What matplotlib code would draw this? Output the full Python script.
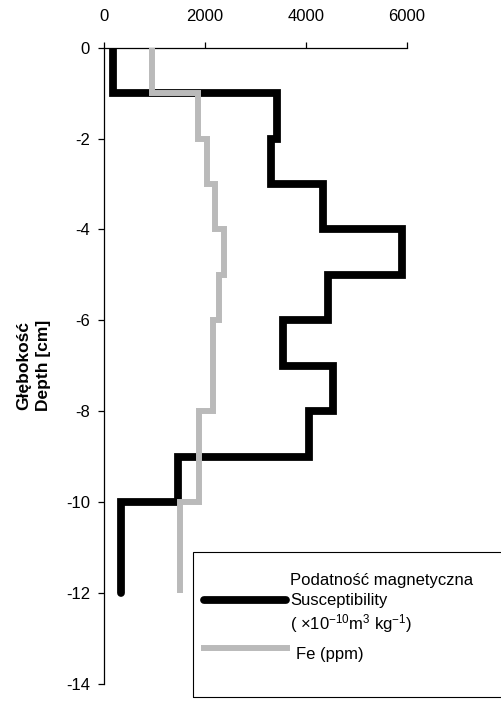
import numpy as np
import matplotlib
matplotlib.use("Agg")
import matplotlib.pyplot as plt
from matplotlib.patches import Rectangle
from matplotlib.lines import Line2D

plt.rcParams['font.family'] = ['Liberation Sans', 'DejaVu Sans']
plt.rcParams['axes.unicode_minus'] = False
plt.rcParams['mathtext.fontset'] = 'custom'
plt.rcParams['mathtext.rm'] = 'Liberation Sans'
plt.rcParams['mathtext.it'] = 'Liberation Sans'

# 1 cm sampling intervals, top of each slice
depth_top = [0, -1, -2, -3, -4, -5, -6, -7, -8, -9, -10, -11]
susceptibility = [170, 3420, 3300, 4330, 5900, 4440, 3540, 4545, 4070, 1470, 330, 330]
fe_ppm = [940, 1865, 2030, 2195, 2375, 2270, 2160, 2160, 1885, 1870, 1500, 1500]

x_ticks = [0, 2000, 4000, 6000]
y_ticks = [0, -2, -4, -6, -8, -10, -12, -14]


def step_profile(tops, values):
    """Vertical step line: each value held over its 1 cm slice."""
    tops = np.asarray(tops, dtype=float)
    vals = np.asarray(values, dtype=float)
    ys = np.column_stack([tops, tops - 1]).ravel()
    xs = np.repeat(vals, 2)
    return xs, ys


fig = plt.figure(figsize=(5.02, 7.02), dpi=100)
ax = fig.add_axes([0.2078, 0.0256, 0.6025, 0.9065])

xs, ys = step_profile(depth_top, susceptibility)
ax.plot(xs, ys, color='black', lw=5.6, solid_capstyle='round',
        solid_joinstyle='miter', zorder=3)
xs, ys = step_profile(depth_top, fe_ppm)
ax.plot(xs, ys, color='#bababa', lw=4.3, solid_capstyle='butt',
        solid_joinstyle='miter', zorder=4)

ax.set_xlim(0, 6000)
ax.set_ylim(-14, 0)
ax.set_xticks(x_ticks)
ax.set_yticks(y_ticks)
ax.xaxis.tick_top()
ax.spines['right'].set_visible(False)
ax.spines['bottom'].set_visible(False)
for s in ('left', 'top'):
    ax.spines[s].set_linewidth(0.9)
ax.tick_params(axis='x', direction='out', length=4.3, width=0.9,
               pad=13, labelsize=12)
ax.tick_params(axis='y', direction='out', length=4.3, width=0.9,
               pad=6, labelsize=12)

ax.set_ylabel('Głębokość\nDepth [cm]', fontsize=12.5, fontweight='bold',
              linespacing=1.4, labelpad=11)

# legend box, drawn in figure pixels
W, H = 502, 702


def fx(px):
    return px / W


def fy(py):
    return 1 - py / H


fig.add_artist(Rectangle((fx(193), fy(697)), fx(340), fy(552) - fy(697),
                         transform=fig.transFigure, fill=False,
                         edgecolor='black', lw=0.8))
fig.add_artist(Line2D([fx(204), fx(286)], [fy(600), fy(600)],
                      transform=fig.transFigure, color='black', lw=5.6,
                      solid_capstyle='round'))
fig.add_artist(Line2D([fx(204), fx(287)], [fy(648), fy(648)],
                      transform=fig.transFigure, color='#bababa', lw=4.3))
fig.text(fx(290), fy(580), 'Podatność magnetyczna', fontsize=12, va='center')
fig.text(fx(290), fy(601), 'Susceptibility', fontsize=12, va='center')
fig.text(fx(290), fy(624), r'( ×10$^{-10}$m$^{3}$ kg$^{-1}$)', fontsize=12,
         va='center')
fig.text(fx(296), fy(655), 'Fe (ppm)', fontsize=12, va='center')

fig.savefig('out.png', dpi=100)
